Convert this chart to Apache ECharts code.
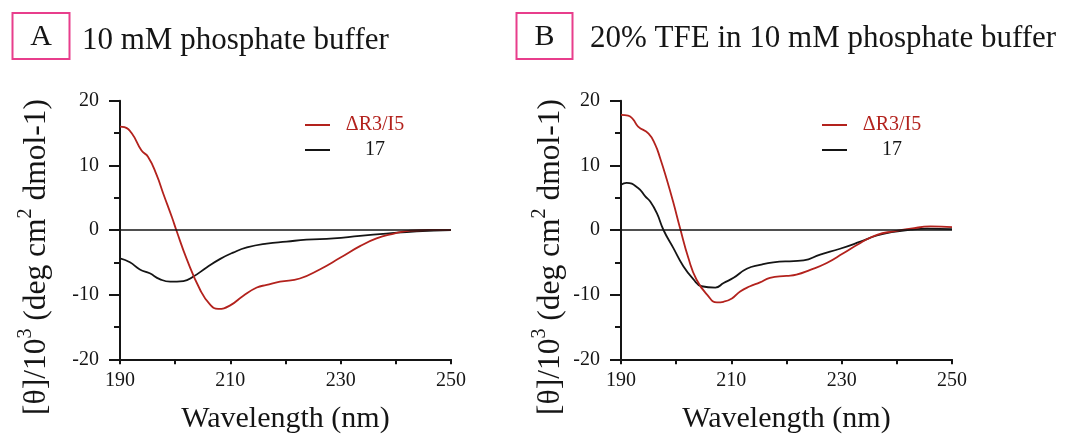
<!DOCTYPE html>
<html>
<head>
<meta charset="utf-8">
<script src="https://cdn.jsdelivr.net/npm/echarts@6/dist/echarts.min.js"></script>
<style>
  html, body { margin: 0; padding: 0; background: #fff; }
  #chart { width: 1069px; height: 436px; }
</style>
</head>
<body>
<div id="chart"></div>
<script>
// CD spectra, values: [wavelength nm, [θ]/10^3]
const panelTitles = ['10 mM phosphate buffer', '20% TFE in 10 mM phosphate buffer']
const panelLetters = ['A', 'B']
const seriesNames = ['ΔR3/I5', '17']
const xTickLabels = [190, 210, 230, 250]

const r3i5Buffer = [
  [190, 16.0], [190.8, 15.9], [192.1, 15.0], [193.9, 12.3], [195.1, 11.3],
  [196.6, 8.6], [197.9, 5.5], [199.4, 2.0], [200.2, 0], [202.1, -4.5],
  [204.5, -9.2], [206.3, -11.5], [207.8, -12.2], [209.9, -11.7], [212.3, -10.2],
  [214.8, -8.9], [216.6, -8.5], [219.0, -8.0], [222.6, -7.5], [226.2, -6.1],
  [229.9, -4.3], [233.5, -2.5], [236.5, -1.3], [239.5, -0.6], [242.6, -0.1],
  [246, 0], [250, 0]
]
const p17Buffer = [
  [190, -4.4], [191.8, -5.0], [193.6, -6.1], [195.4, -6.7], [197.2, -7.6],
  [199.1, -8.0], [201.5, -7.9], [203.3, -7.2], [205.7, -5.8], [208.1, -4.5],
  [210.5, -3.5], [213, -2.7], [216.6, -2.1], [220.2, -1.8], [223.8, -1.5],
  [228.7, -1.3], [233.5, -0.9], [238.3, -0.55], [243.8, -0.2], [250, 0]
]
const r3i5Tfe = [
  [190, 17.8], [191.3, 17.7], [192.2, 17.1], [193.1, 16.0], [195.0, 14.9],
  [196.2, 13.2], [197.1, 11.1], [198.3, 7.8], [199.5, 4.2], [200.7, 0.3],
  [202.2, -4.3], [203.7, -7.7], [205.6, -10.0], [207.4, -11.2], [208.6, -11.1],
  [210.1, -10.6], [211.6, -9.5], [213.4, -8.7], [215.2, -8.1], [217, -7.4],
  [220, -7.1], [221.8, -6.9], [224.2, -6.2], [227.3, -5.1], [230.3, -3.6],
  [233.4, -2.0], [236.4, -0.75], [239.4, -0.2], [242.5, 0.2], [246.1, 0.55],
  [250, 0.45]
]
const p17Tfe = [
  [190, 7.0], [191, 7.3], [193.1, 6.5], [194.4, 5.2], [195.3, 4.4],
  [196.5, 2.6], [197.7, 0], [199.5, -2.8], [201.3, -5.6], [203.1, -7.6],
  [204.6, -8.7], [207.1, -8.9], [208.6, -8.2], [210.4, -7.4], [212.8, -6.0],
  [215.2, -5.4], [217.6, -5.0], [221.3, -4.8], [223.1, -4.7], [226.1, -3.8],
  [229.7, -2.9], [233.4, -1.8], [236.4, -0.85], [239.4, -0.3], [242.5, 0.05],
  [245.5, 0.2], [250, 0.15]
]

const FONT = 'Liberation Serif'
const RED = '#b3221d'
const INK = '#151515'
const PINK = '#e83e8c'

const gridLefts = [120, 621]
const yNameGaps = [67, 54]
const legendLefts = [300, 817]
const boxes = [[12.5, 13, 57, 46], [516.5, 13, 56, 46]]
const titleX = [82, 590]

function makeLine(name, data, idx, color, withZero) {
  const s = {
    name: name,
    type: 'line',
    xAxisIndex: idx,
    yAxisIndex: idx,
    data: data,
    showSymbol: false,
    symbol: 'none',
    smooth: 0.5,
    itemStyle: { color: color },
    lineStyle: { color: color, width: 1.8 },
    emphasis: { disabled: true },
    z: withZero ? 3 : 4
  }
  if (withZero) {
    s.markLine = {
      silent: true,
      symbol: ['none', 'none'],
      label: { show: false },
      lineStyle: { color: INK, width: 1.6, type: 'solid' },
      data: [{ yAxis: 0 }]
    }
  }
  return s
}

const chart = echarts.init(document.getElementById('chart'))

const option = {
  animation: false,
  backgroundColor: '#fff',
  grid: gridLefts.map(l => ({
    left: l, top: 100.7, width: 331, height: 258.6,
    containLabel: false, outerBoundsMode: 'none'
  })),
  xAxis: [0, 1].map(i => ({
    gridIndex: i,
    type: 'value',
    min: 190,
    max: 250,
    interval: 10,
    name: 'Wavelength (nm)',
    nameLocation: 'middle',
    nameGap: 45,
    nameTextStyle: { fontFamily: FONT, fontSize: 30, color: INK },
    axisLine: { onZero: false, lineStyle: { color: INK, width: 2 } },
    axisTick: { length: 5, lineStyle: { color: INK, width: 2 } },
    axisLabel: {
      margin: 11,
      fontFamily: FONT,
      fontSize: 20,
      color: INK,
      formatter: v => (xTickLabels.indexOf(v) >= 0 ? String(v) : '')
    },
    splitLine: { show: false }
  })),
  yAxis: [0, 1].map(i => ({
    gridIndex: i,
    type: 'value',
    min: -20,
    max: 20,
    interval: 10,
    name: '{n|[θ]/10}{sup|3}{n| (deg cm}{sup|2}{n| dmol-1)}',
    nameLocation: 'middle',
    nameGap: yNameGaps[i],
    nameTextStyle: {
      fontFamily: FONT,
      color: INK,
      padding: [0, 54, 0, 0],
      rich: {
        n: { fontFamily: FONT, fontSize: 31.5, color: INK, lineHeight: 37, verticalAlign: 'bottom' },
        sup: { fontFamily: FONT, fontSize: 20, color: INK, lineHeight: 20, verticalAlign: 'top' }
      }
    },
    axisLine: { lineStyle: { color: INK, width: 2 } },
    axisTick: { length: 11, lineStyle: { color: INK, width: 2 } },
    minorTick: { show: true, splitNumber: 2, length: 6, lineStyle: { color: INK, width: 2 } },
    axisLabel: { margin: 21, fontFamily: FONT, fontSize: 20, color: INK },
    splitLine: { show: false },
    minorSplitLine: { show: false }
  })),
  legend: legendLefts.map(l => ({
    left: l,
    top: 110,
    orient: 'vertical',
    icon: 'rect',
    itemWidth: 25,
    itemHeight: 2,
    itemGap: 5,
    selectedMode: false,
    data: seriesNames,
    formatter: name => (name === '17' ? '{k|' + name + '}' : '{r|' + name + '}'),
    textStyle: {
      fontFamily: FONT,
      fontSize: 20,
      rich: {
        r: { fontFamily: FONT, fontSize: 20, color: RED, lineHeight: 20, width: 60, align: 'center', padding: [0, 0, 0, 10] },
        k: { fontFamily: FONT, fontSize: 20, color: INK, lineHeight: 20, width: 60, align: 'center', padding: [0, 0, 0, 10] }
      }
    }
  })),
  graphic: [].concat(
    boxes.map(b => ({
      type: 'rect',
      shape: { x: b[0], y: b[1], width: b[2], height: b[3] },
      style: { fill: 'none', stroke: PINK, lineWidth: 2 }
    })),
    panelLetters.map((t, i) => ({
      type: 'text',
      x: boxes[i][0] + boxes[i][2] / 2,
      y: 37,
      style: {
        text: t, font: '30px "' + FONT + '"', fill: INK,
        align: 'center', verticalAlign: 'middle',
        textAlign: 'center', textVerticalAlign: 'middle'
      }
    })),
    panelTitles.map((t, i) => ({
      type: 'text',
      x: titleX[i],
      y: i === 0 ? 41 : 39,
      style: {
        text: t, font: '31px "' + FONT + '"', fill: INK,
        align: 'left', verticalAlign: 'middle',
        textAlign: 'left', textVerticalAlign: 'middle'
      }
    }))
  ),
  series: [
    makeLine(seriesNames[1], p17Buffer, 0, INK, true),
    makeLine(seriesNames[0], r3i5Buffer, 0, RED, false),
    makeLine(seriesNames[1], p17Tfe, 1, INK, true),
    makeLine(seriesNames[0], r3i5Tfe, 1, RED, false)
  ]
}

chart.setOption(option)
</script>
</body>
</html>
